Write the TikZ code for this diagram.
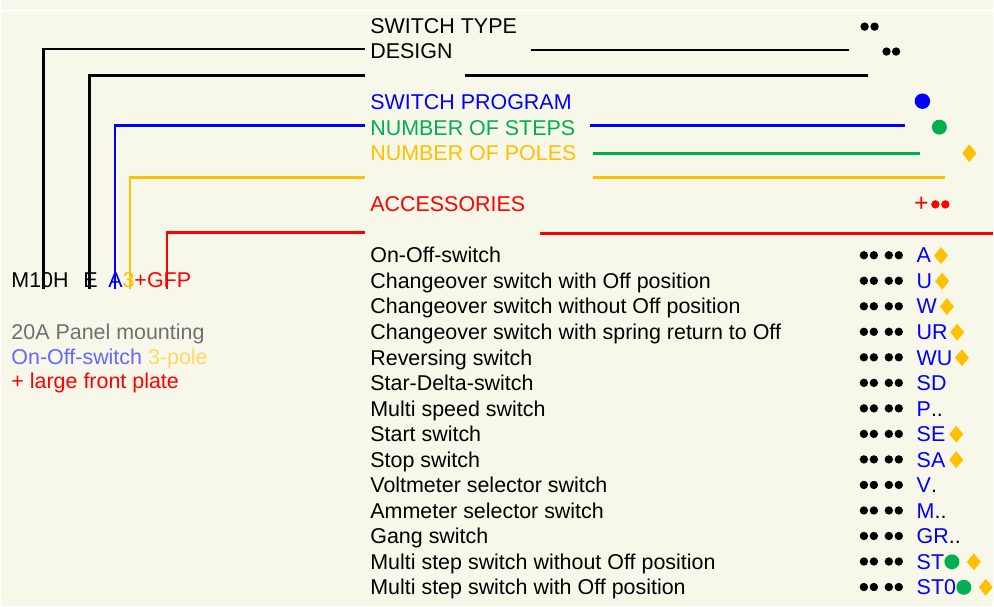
\documentclass[tikz,border=0pt]{standalone}
\usepackage{fontspec}
\setmainfont{Liberation Sans}
\usepackage{xcolor}
\usetikzlibrary{calc,positioning,shapes.geometric}
\definecolor{cream}{HTML}{F8F8EA}
\definecolor{pblue}{HTML}{0000FF}
\definecolor{pgreen}{HTML}{00B050}
\definecolor{porange}{HTML}{FFC000}
\definecolor{pred}{HTML}{FF0000}
\definecolor{pgray}{HTML}{707070}
\definecolor{lblue}{HTML}{6666FF}
\definecolor{lorange}{HTML}{FFD966}

\begin{document}
\begin{tikzpicture}[x=1pt,y=-1pt]
            \tikzstyle{every node}=[inner sep=0pt, outer sep=0pt, font=\fontsize{21.5}{25}\selectfont]
            \tikzstyle{txt}=[anchor=base west]
            \tikzstyle{lne}=[line width=2.6pt]
            \tikzstyle{dot}=[circle, fill, minimum size=8.4pt]
            \tikzstyle{big}=[circle, fill, minimum size=15.5pt]
            \tikzstyle{dia}=[diamond, fill=porange, minimum width=14pt, minimum height=17pt]
            \fill[cream] (0,0) rectangle (994,608);
            \draw[white, line width=3pt] (0,11) -- (994,11);
            % Code
            \node[txt] (code) at (10,288.3) {M10H\hspace{14.7pt}E\hspace{10.7pt}\textcolor{pblue}{A}\textcolor{porange}{3}\textcolor{pred}{+GFP}};
            \node[txt, pgray] (d1) at (10,341) {20A Panel mounting};
            \node[txt] (d2) at (10,366) {\textcolor{lblue}{On-Off-switch} \textcolor{lorange}{3-pole}};
            \node[txt, pred] (d3) at (10,390) {+ large front plate};
            % Headings
            \node[txt] (h0) at (370,33.3) {SWITCH TYPE};
            \node[txt] (h1) at (370,58.9) {DESIGN};
            \node[txt, pblue] (h3) at (370,110.1) {SWITCH PROGRAM};
            \node[txt, pgreen] (h4) at (370,135.7) {NUMBER OF STEPS};
            \node[txt, porange] (h5) at (370,161.3) {NUMBER OF POLES};
            \node[txt, pred] (h7) at (370,212.5) {ACCESSORIES};
            \node[dot] (m0a) at (865.7,26.7) {};
            \node[dot] (m0b) at (875.7,26.7) {};
            \node[dot] (m1a) at (887.7,51.7) {};
            \node[dot] (m1b) at (897.3,51.7) {};
            \node[big, pblue] (m3) at (923.7,101.5) {};
            \node[big, pgreen, minimum size=15pt] (m4) at (940.7,127.5) {};
            \node[dia, minimum height=18pt] (m5) at (970.7,153.7) {};
            \node[pred, font=\fontsize{25}{25}\selectfont] (m7) at (922.7,205) {+};
            \node[dot, pred] (m7a) at (936.7,205) {};
            \node[dot, pred] (m7b) at (946.7,205) {};
            % Lines
            \coordinate (a0) at (42,290);
            \coordinate (a1) at (365,49);
            \coordinate (b0) at (88,290);
            \coordinate (b1) at (365,76);
            \coordinate (c0) at (114,290);
            \coordinate (c1) at (365,126);
            \coordinate (e0) at (129,290);
            \coordinate (e1) at (365,178);
            \coordinate (f0) at (166,290);
            \coordinate (f1) at (365,233);
            \draw[lne] (a0) |- (a1);
            \draw[lne] (b0) |- (b1);
            \draw[lne, pblue] (c0) |- (c1);
            \draw[lne, porange] (e0) |- (e1);
            \draw[lne, pred] (f0) |- (f1);
            \coordinate (s1) at (531,50);
            \coordinate (s2) at (850,50);
            \coordinate (s3) at (465,76);
            \coordinate (s4) at (869,76);
            \coordinate (s5) at (590,126);
            \coordinate (s6) at (906,126);
            \coordinate (s7) at (593,154);
            \coordinate (s8) at (921,154);
            \coordinate (s9) at (593,178);
            \coordinate (s10) at (946,178);
            \coordinate (s11) at (540,234);
            \coordinate (s12) at (994,234);
            \draw[lne] (s1) -- (s2);
            \draw[lne] (s3) -- (s4);
            \draw[lne, pblue] (s5) -- (s6);
            \draw[lne, pgreen] (s7) -- (s8);
            \draw[lne, porange] (s9) -- (s10);
            \draw[lne, pred] (s11) -- (s12);
            % Switch programs
            \node[txt] (r1) at (370,263.7) {On-Off-switch};
            \node[txt] (r2) at (370,289.3) {Changeover switch with Off position};
            \node[txt] (r3) at (370,314.9) {Changeover switch without Off position};
            \node[txt] (r4) at (370,340.5) {Changeover switch with spring return to Off};
            \node[txt] (r5) at (370,366.1) {Reversing switch};
            \node[txt] (r6) at (370,391.7) {Star-Delta-switch};
            \node[txt] (r7) at (370,417.3) {Multi speed switch};
            \node[txt] (r8) at (370,442.9) {Start switch};
            \node[txt] (r9) at (370,468.5) {Stop switch};
            \node[txt] (r10) at (370,494.1) {Voltmeter selector switch};
            \node[txt] (r11) at (370,519.7) {Ammeter selector switch};
            \node[txt] (r12) at (370,545.3) {Gang switch};
            \node[txt] (r13) at (370,570.9) {Multi step switch without Off position};
            \node[txt] (r14) at (370,596.5) {Multi step switch with Off position};
            \foreach \i in {1,...,14}
            {
                \node[dot] (p\i a) at (865,{230.4+25.6*\i}) {};
                \node[dot] (p\i b) at (875,{230.4+25.6*\i}) {};
                \node[dot] (p\i c) at (890,{230.4+25.6*\i}) {};
                \node[dot] (p\i d) at (900,{230.4+25.6*\i}) {};
            }
            \node[txt, pblue] (k1) at (918,263.7) {A};
            \node[txt, pblue] (k2) at (918,289.3) {U};
            \node[txt, pblue] (k3) at (918,314.9) {W};
            \node[txt, pblue] (k4) at (918,340.5) {UR};
            \node[txt, pblue] (k5) at (918,366.1) {WU};
            \node[txt, pblue] (k6) at (918,391.7) {SD};
            \node[txt, pblue] (k7) at (918,417.3) {P\textcolor{black}{..}};
            \node[txt, pblue] (k8) at (918,442.9) {SE};
            \node[txt, pblue] (k9) at (918,468.5) {SA};
            \node[txt, pblue] (k10) at (918,494.1) {V\textcolor{black}{.}};
            \node[txt, pblue] (k11) at (918,519.7) {M\textcolor{black}{..}};
            \node[txt, pblue] (k12) at (918,545.3) {GR\textcolor{black}{..}};
            \node[txt, pblue] (k13) at (918,570.9) {ST};
            \node[txt, pblue] (k14) at (918,596.5) {ST0};
            \node[dia, right=3pt of k1] (q1) {};
            \node[dia, right=3pt of k2] (q2) {};
            \node[dia, right=3pt of k3] (q3) {};
            \node[dia, right=2.5pt of k4] (q4) {};
            \node[dia, right=2.5pt of k5] (q5) {};
            \node[dia, right=4pt of k8] (q8) {};
            \node[dia, right=4pt of k9] (q9) {};
            \node[big, pgreen, minimum size=15pt, right=0.3pt of k13] (g13) {};
            \node[dia, right=7.5pt of g13] (q13) {};
            \node[big, pgreen, minimum size=15pt, right=0.3pt of k14] (g14) {};
            \node[dia, right=7.5pt of g14] (q14) {};
        \end{tikzpicture}
\end{document}
